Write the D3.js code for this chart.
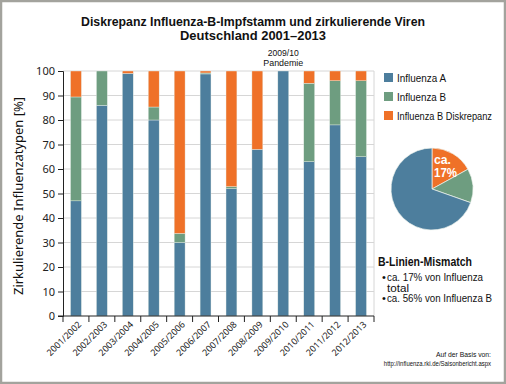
<!DOCTYPE html>
<html><head><meta charset="utf-8">
<script src="https://cdn.jsdelivr.net/npm/d3@7"></script>
<style>
html,body{margin:0;padding:0;background:#fff;}
svg{display:block;}
.cond{font-family:"Liberation Sans","Roboto",sans-serif;}
.reg{font-family:"Noto Sans","DejaVu Sans",sans-serif;}
</style></head><body>
<svg id="c" width="506" height="384"></svg>
<script>
const seasons = ["2001/2002","2002/2003","2003/2004","2004/2005","2005/2006","2006/2007","2007/2008","2008/2009","2009/2010","2010/2011","2011/2012","2012/2013"];
const influenzaA = [47, 86, 99, 80, 30, 98.8, 52, 68, 100, 63, 78, 65];
const influenzaB = [42.4, 14, 0, 5.3, 3.7, 0.4, 0.8, 0, 0, 32, 18, 31];
const diskrepanz = [10.6, 0, 1, 14.7, 66.3, 0.8, 47.2, 32, 0, 5, 4, 4];
const seriesNames = ["Influenza A","Influenza B","Influenza B Diskrepanz"];
const colors = ["#4d7e9d","#6e9d80","#ef7128"];
const yTicks = [0,10,20,30,40,50,60,70,80,90,100];
const pieValues = [17, 13.4, 69.6]; // Diskrepanz, Influenza B, Influenza A
const pieColors = ["#ef7128","#6e9d80","#4d7e9d"];

const svg = d3.select("#c");
svg.append("rect").attr("x",1).attr("y",1).attr("width",504).attr("height",382)
  .attr("fill","#fff").attr("stroke","#a3a39d").attr("stroke-width",2.5);

function txt(s, x, y, size, opts={}){
  const t = svg.append("text").attr("class",opts.cls||"cond").attr("x",x).attr("y",y)
    .attr("font-size",size).attr("fill",opts.fill||"#111").text(s);
  if (opts.bold) t.attr("font-weight","bold");
  if (opts.anchor) t.attr("text-anchor",opts.anchor);
  if (opts.w) t.attr("textLength",opts.w).attr("lengthAdjust","spacingAndGlyphs");
  return t;
}

// Title
txt("Diskrepanz Influenza-B-Impfstamm und zirkulierende Viren",253,26,12.5,{bold:true,anchor:"middle",w:344});
txt("Deutschland 2001–2013",253,40,12.5,{bold:true,anchor:"middle",w:146});

const pL = 63, pR = 374, pT = 71, pB = 316;
const x = d3.scaleBand().domain(seasons).range([pL,pR]).paddingInner(0.58).paddingOuter(0.29);
const xb = d3.scaleBand().domain(seasons).range([pL,pR]);
const y = d3.scaleLinear().domain([0,100]).range([pB,pT]);

// gridlines
svg.append("g").selectAll("line").data(yTicks.filter(d=>d>0)).join("line")
  .attr("x1",pL).attr("x2",pR).attr("y1",d=>y(d)).attr("y2",d=>y(d))
  .attr("stroke","#d6d6d6").attr("stroke-width",1);
svg.append("line").attr("x1",pR).attr("x2",pR).attr("y1",pT).attr("y2",pB)
  .attr("stroke","#d6d6d6");

// stacked bars
const rows = seasons.map((s,i)=>({season:s,a:influenzaA[i],b:influenzaB[i],d:diskrepanz[i]}));
const stack = d3.stack().keys(["a","b","d"])(rows);
svg.append("g").selectAll("g").data(stack).join("g").attr("fill",(d,i)=>colors[i])
  .selectAll("rect").data(d=>d).join("rect")
  .attr("x",d=>x(d.data.season)).attr("width",x.bandwidth())
  .attr("y",d=>y(d[1])).attr("height",d=>Math.max(0,y(d[0])-y(d[1])))
  .attr("stroke","#e8efe8").attr("stroke-width",d=>(d[1]-d[0])>0?0.4:0);

// y axis
const yAx = svg.append("g").attr("transform",`translate(${pL},0)`)
  .call(d3.axisLeft(y).tickValues(yTicks).tickSize(5).tickPadding(3));
yAx.select(".domain").attr("stroke","#222");
yAx.selectAll("line").attr("stroke","#222");
yAx.selectAll("text").attr("class","reg").attr("font-size",11).attr("fill","#222");

// x axis
const xg = svg.append("g").attr("transform",`translate(0,${pB})`);
xg.append("line").attr("x1",pL-5).attr("x2",pR).attr("y1",0).attr("y2",0).attr("stroke","#222");
const bounds = seasons.map(s=>xb(s)).concat([pR]);
xg.selectAll("line.t").data(bounds).join("line").attr("class","t")
  .attr("x1",d=>d).attr("x2",d=>d).attr("y1",0).attr("y2",6).attr("stroke","#222");
xg.selectAll("text").data(seasons).join("text").attr("class","reg")
  .attr("font-size",9).attr("fill","#222").attr("text-anchor","end")
  .attr("transform",d=>`translate(${x(d)+x.bandwidth()/2+6},${9}) rotate(-45)`)
  .text(d=>d);

// y label
svg.append("text").attr("class","reg").attr("font-size",12.5).attr("fill","#111")
  .attr("text-anchor","middle").attr("transform",`translate(23,196) rotate(-90)`)
  .attr("textLength",198).attr("lengthAdjust","spacingAndGlyphs")
  .text("Zirkulierende Influenzatypen [%]");

// pandemie annotation
const px = x("2009/2010")+x.bandwidth()/2;
txt("2009/10",px,56,9.5,{anchor:"middle",w:31});
txt("Pandemie",px,65.5,9.5,{anchor:"middle",w:40});

// legend
const legW = [49,49,95];
seriesNames.forEach((n,i)=>{
  svg.append("rect").attr("x",384).attr("y",73+i*19).attr("width",9).attr("height",9).attr("fill",colors[i]);
  txt(n,397,73+i*19+9,i===2?10.5:11.5,{w:legW[i]});
});

// pie
const pie = d3.pie().sort(null)(pieValues);
const arc = d3.arc().innerRadius(0).outerRadius(41);
const pg = svg.append("g").attr("transform","translate(432,189)");
pg.selectAll("path").data(pie).join("path").attr("d",arc).attr("fill",(d,i)=>pieColors[i])
  .attr("stroke","#eef3ee").attr("stroke-width",0.7);
txt("ca.",434,164,12,{bold:true,fill:"#fff",w:17});
txt("17%",434,177,12,{bold:true,fill:"#fff",w:23});

// mismatch box
txt("B-Linien-Mismatch",378,266,13.5,{bold:true,w:94});
txt("•",382,280.7,11);
txt("ca. 17% von Influenza",387,280.7,11,{w:96});
txt("total",387,291.5,11,{w:22});
txt("•",382,302.3,11);
txt("ca. 56% von Influenza B",387,302.3,10.5,{w:105});

// source
txt("Auf der Basis von:",491,356.7,8,{anchor:"end",w:55});
svg.append("g").attr("transform","translate(491,366) scale(0.83,1)")
  .append("text").attr("class","cond").attr("x",0).attr("y",0).attr("text-anchor","end")
  .attr("font-size",7.2).attr("fill","#111").text("http://influenza.rki.de/Saisonbericht.aspx");
</script>
</body></html>
